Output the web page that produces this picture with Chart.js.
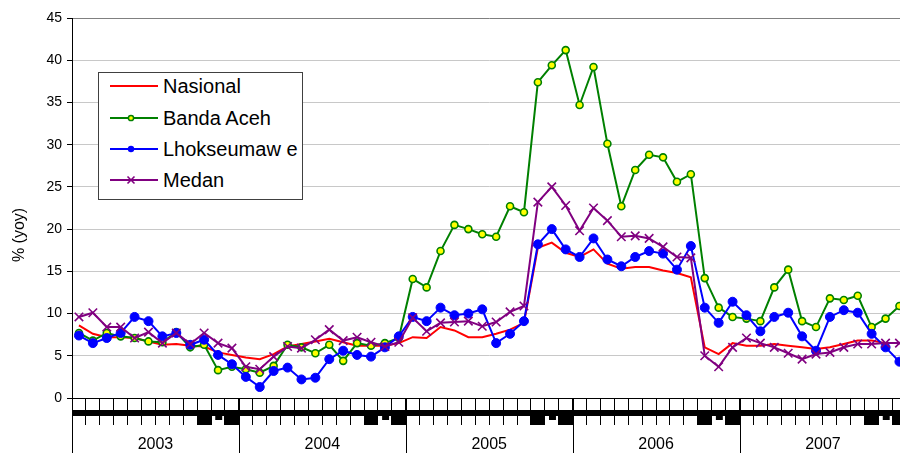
<!DOCTYPE html>
<html><head><meta charset="utf-8">
<script src="https://cdn.jsdelivr.net/npm/chart.js@4/dist/chart.umd.min.js"></script>
<style>
html,body{margin:0;padding:0;background:#fff;overflow:hidden;}
#wrap{position:relative;width:914px;height:453px;}
#legend{position:absolute;left:98px;top:72px;width:203px;height:126px;border:1px solid #404040;background:#fff;font-family:"Liberation Sans",Arial,sans-serif;font-size:20px;color:#000;}
.item{position:absolute;left:11px;height:24px;display:flex;align-items:center;white-space:nowrap;}
.item svg{margin-right:5px;display:block;}
</style></head>
<body><div id="wrap"><canvas id="c" width="914" height="453" style="width:914px;height:453px;"></canvas><div id="legend"></div></div>
<script>
const years = ['2003','2004','2005','2006','2007'];
const monthNames = ['Jan','Feb','Mar','Apr','May','Jun','Jul','Aug','Sep','Oct','Nov','Dec'];
const seriesNames = ['Nasional','Banda Aceh','Lhokseumaw e','Medan'];
const yTickValues = [0,5,10,15,20,25,30,35,40,45];

const nasional = [8.6,7.6,7.2,7.2,7.1,6.7,6.3,6.4,6.2,6.1,5.4,5.1,
  4.8,4.6,5.2,6.1,6.4,6.7,7.0,6.6,6.2,6.2,6.2,6.5,
  7.2,7.1,8.4,8.0,7.2,7.2,7.6,8.1,8.9,17.8,18.4,17.2,
  16.7,17.6,15.9,15.3,15.5,15.5,15.1,14.8,14.3,6.0,5.2,6.5,
  6.2,6.2,6.4,6.2,6.0,5.8,6.0,6.4,6.8,6.8,6.5,6.5];
const bandaAceh = [7.7,6.8,7.7,7.3,7.1,6.7,6.6,7.8,6.0,6.3,3.3,3.7,
  3.4,3.0,3.8,6.3,6.0,5.3,6.3,4.4,6.5,6.2,6.5,7.1,
  14.1,13.1,17.4,20.5,20.0,19.4,19.1,22.7,22.0,37.4,39.4,41.2,
  34.7,39.2,30.1,22.7,27.0,28.8,28.5,25.6,26.5,14.2,10.7,9.6,
  9.4,9.1,13.1,15.2,9.1,8.4,11.8,11.6,12.1,8.4,9.4,10.9];
const lhokseumawe = [7.4,6.5,7.1,7.7,9.6,9.1,7.3,7.7,6.3,6.9,5.1,4.0,
  2.5,1.3,3.2,3.6,2.2,2.4,4.6,5.6,5.1,4.9,6.0,7.3,
  9.6,9.1,10.7,9.8,10.0,10.5,6.5,7.6,9.1,18.2,20.0,17.6,
  16.7,18.9,16.4,15.6,16.7,17.4,17.1,15.2,18.0,10.7,8.9,11.4,
  9.8,7.9,9.6,10.1,7.3,5.6,9.6,10.4,10.1,7.6,6.0,4.3];
const medan = [9.6,10.1,8.4,8.4,7.1,7.8,6.5,7.7,6.4,7.7,6.5,5.9,
  3.7,3.4,4.9,6.1,5.9,6.9,8.1,6.8,7.2,6.6,6.1,6.6,
  9.5,7.9,8.9,9.0,9.1,8.5,9.0,10.2,10.9,23.2,25.0,22.8,
  19.8,22.5,21.0,19.1,19.2,18.9,17.9,16.7,16.6,5.0,3.7,6.0,
  7.1,6.5,6.0,5.3,4.6,5.2,5.4,6.0,6.4,6.4,6.5,6.5];

const labels = [];
years.forEach(y => monthNames.forEach(m => labels.push(m + ' ' + y)));

const FONT = '"Liberation Sans", Arial, sans-serif';

const datasets = [
  {label: seriesNames[0], data: nasional, borderColor:'#ff0000', backgroundColor:'#ff0000', borderWidth:2, pointRadius:0, order:4, marker:'none'},
  {label: seriesNames[1], data: bandaAceh, borderColor:'#008000', backgroundColor:'#008000', borderWidth:2, pointStyle:'circle', pointRadius:3.5, pointBackgroundColor:'#ffff00', pointBorderColor:'#008000', pointBorderWidth:1.6, order:3, marker:'ring'},
  {label: seriesNames[2], data: lhokseumawe, borderColor:'#0000ff', backgroundColor:'#0000ff', borderWidth:2, pointStyle:'circle', pointRadius:4.5, pointBackgroundColor:'#0000ff', pointBorderColor:'#0000ff', pointBorderWidth:1, order:2, marker:'dot'},
  {label: seriesNames[3], data: medan, borderColor:'#800080', backgroundColor:'#800080', borderWidth:2, pointStyle:'crossRot', pointRadius:6, pointBorderColor:'#800080', pointBorderWidth:1.6, order:1, marker:'cross'}
];

const deco = {
  id:'deco',
  afterDraw(chart){
    const {ctx, chartArea} = chart;
    const x = chart.scales.x;
    const bottom = chartArea.bottom;
    const n = labels.length;
    const step = (x.right - x.left) / n;
    const edge = i => x.getPixelForValue(i) - step/2;
    ctx.save();
    ctx.fillStyle = '#000';
    ctx.fillRect(x.left, bottom + 12, x.right - x.left, 6);
    years.forEach((yr, yi) => {
      const s = yi*12;
      ctx.fillRect(edge(s+9), bottom + 18, step, 9);
      ctx.fillRect(edge(s+11), bottom + 18, step, 9);
      ctx.fillRect(edge(s+10) + step*0.3, bottom + 18, step*0.5, 4);
    });
    ctx.strokeStyle = '#000';
    ctx.lineWidth = 1;
    for (let yi = 0; yi <= years.length; yi++) {
      const px = Math.round(edge(yi*12)) + 0.5;
      ctx.beginPath(); ctx.moveTo(px, bottom); ctx.lineTo(px, chart.height); ctx.stroke();
    }
    ctx.font = '16px ' + FONT;
    ctx.textAlign = 'center';
    ctx.textBaseline = 'middle';
    years.forEach((yr, yi) => {
      const mid = (edge(yi*12) + edge(yi*12+12)) / 2;
      ctx.fillText(yr, mid, bottom + 47);
    });
    ctx.translate(20, (chartArea.top + chartArea.bottom)/2 + 27);
    ctx.rotate(-Math.PI/2);
    ctx.fillText('% (yoy)', 0, 0);
    ctx.restore();
  }
};

new Chart(document.getElementById('c'), {
  type:'line',
  data:{labels, datasets},
  options:{
    responsive:false,
    animation:false,
    events:[],
    layout:{padding:{top:18, left:0, right:0, bottom:0}},
    elements:{line:{tension:0}},
    plugins:{legend:{display:false}, tooltip:{enabled:false}},
    scales:{
      x:{
        type:'category', offset:true,
        grid:{display:true, drawOnChartArea:false, drawTicks:true, tickLength:27, tickColor:'#000', offset:true},
        border:{display:true, color:'#000', width:1},
        ticks:{display:true, autoSkip:false, maxRotation:0, callback:()=>''},
        afterFit:s=>{s.height = 55;}
      },
      y:{
        min:0, max:45,
        afterBuildTicks: s => { s.ticks = yTickValues.map(v => ({value:v})); },
        ticks:{color:'#000', font:{family:FONT, size:14}, padding:5},
        grid:{color: c => (c.tick && c.tick.value === 45) ? '#808080' : '#c8c8c8', tickColor:'#000', tickLength:5, lineWidth:1},
        border:{display:true, color:'#000', width:1},
        afterFit:s=>{s.width = 72;}
      }
    }
  },
  plugins:[deco]
});

// HTML legend
const lg = document.getElementById('legend');
const centers = [13, 45, 76, 107];
datasets.forEach((d, i) => {
  const c = d.borderColor;
  let m = '';
  if (d.marker === 'ring') m = `<circle cx="21" cy="12" r="2.6" fill="#ffff00" stroke="${c}" stroke-width="1.5"/>`;
  else if (d.marker === 'dot') m = `<circle cx="21" cy="12" r="3.2" fill="${c}"/>`;
  else if (d.marker === 'cross') m = `<path d="M17.5 8.5L24.5 15.5M24.5 8.5L17.5 15.5" stroke="${c}" stroke-width="1.6"/>`;
  const div = document.createElement('div');
  div.className = 'item';
  div.style.top = (centers[i] - 12) + 'px';
  div.innerHTML = `<svg width="48" height="24"><line x1="0" y1="12" x2="48" y2="12" stroke="${c}" stroke-width="2"/>${m}</svg><span>${d.label}</span>`;
  lg.appendChild(div);
});
</script>
</body></html>
